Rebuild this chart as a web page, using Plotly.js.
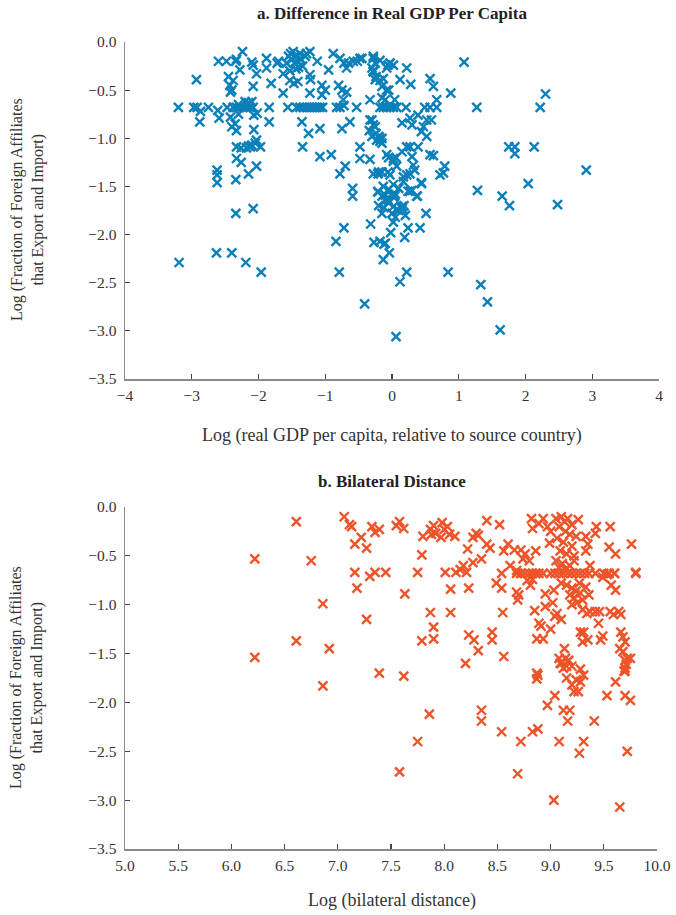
<!DOCTYPE html>
<html>
<head>
<meta charset="utf-8">
<script src="https://cdn.plot.ly/plotly-3.0.1.min.js"></script>
<style>html,body{margin:0;padding:0;background:#fff;}#chart{width:676px;height:915px;}</style>
</head>
<body>
<div id="chart"></div>
<script>
// Panel a: log real GDP per capita relative to source country vs log fraction
const gdpX = [-3.20,-3.19,-2.93,-2.97,-2.92,-2.87,-2.88,-2.75,-2.63,-2.62,-2.62,-2.62,-2.61,-2.59,-2.60,
-2.48,-2.47,-2.45,-2.43,-2.40,-2.42,-2.38,-2.40,-2.42,-2.40,-2.35,-2.33,-2.30,
-2.34,-2.33,-2.38,-2.33,-2.28,-2.23,-2.18,-2.13,-2.08,-2.30,-2.20,-2.15,-2.10,
-2.24,-2.28,-2.10,-2.08,-2.03,-2.08,
-2.33,-2.26,-2.18,-2.12,-2.10,-2.05,-2.03,-1.97,-2.15,
-2.33,-2.26,-2.03,-2.15,-2.34,-2.34,-2.08,-2.19,-1.96,-2.07,-2.07,-2.02,
-1.88,-1.88,-1.81,-1.84,-1.84,-1.72,-1.70,
-1.58,-1.55,-1.52,-1.50,-1.48,-1.46,-1.45,-1.42,-1.40,-1.38,-1.36,-1.34,-1.30,-1.28,-1.44,-1.53,
-1.63,-1.53,-1.47,-1.41,-1.63,-1.23,-1.22,-1.23,-1.12,-1.23,
-1.56,-1.43,-1.38,-1.33,-1.28,-1.24,-1.20,-1.16,-1.12,-1.08,-1.04,-0.83,-0.78,-0.53,
-0.95,-0.88,-1.05,-1.00,-1.05,-0.80,
-0.78,-0.72,-0.68,-0.65,-0.58,-0.52,-0.48,
-0.75,-0.68,-0.73,-0.72,
-0.33,-0.28,-0.25,-0.28,-0.24,-0.18,-0.06,-0.03,-0.15,-0.08,-0.10,
-0.18,-0.13,-0.08,-0.03,0.02,0.07,
-1.35,-1.25,-1.08,-0.75,-0.63,
-1.34,-1.08,-0.91,-0.78,-0.70,-0.48,-0.48,-0.59,-0.59,
-0.33,-0.28,-0.34,-0.24,-0.20,-0.18,-0.15,
-0.33,-0.20,-0.15,-0.06,
-0.21,-0.15,-0.10,-0.05,0.04,
-0.05,0.02,0.06,
-0.84,-0.72,-0.79,-0.32,-0.41,
-0.20,-0.12,0.00,-0.15,0.07,0.05,-0.02,
-0.27,-0.18,-0.10,-0.04,-0.13,0.12,0.06,0.22,
-0.13,-0.05,0.02,0.10,0.17,0.05,0.02,0.10,0.15,0.20,0.18,0.24,0.30,0.38,0.44,0.02,0.24,0.19,0.42,0.51,-0.12,
0.84,1.28,1.65,1.76,2.04,2.48,1.33,1.43,1.62,
-0.45,-0.28,-0.18,-0.30,-0.28,-0.25,-0.13,-0.03,0.02,-0.08,0.22,0.12,0.28,0.57,0.62,0.88,1.08,
-0.15,-0.05,0.04,0.21,0.49,0.57,0.67,0.67,1.27,2.22,2.30,
-0.30,-0.25,0.15,0.27,0.30,0.39,0.47,0.52,0.59,0.44,0.52,
-0.30,-0.23,-0.18,-0.15,
-0.08,0.02,0.15,0.22,0.27,0.30,0.39,0.57,0.62,
0.07,0.32,0.34,0.79,0.72,0.77,
-0.28,-0.21,-0.03,0.22,0.27,0.17,0.44,
-0.21,-0.10,-0.06,0.02,0.27,0.37,0.15,
1.75,1.84,1.84,2.13,2.91];
const gdpY = [-0.68,-2.29,-0.39,-0.68,-0.68,-0.72,-0.83,-0.68,-2.19,-1.33,-1.38,-1.46,-0.71,-0.79,-0.20,
-0.20,-0.68,-0.36,-0.45,-0.50,-0.52,-0.40,-2.19,-0.78,-0.88,-0.85,-0.92,-0.75,
-0.20,-0.18,-0.68,-0.68,-0.68,-0.68,-0.68,-0.68,-0.68,-0.65,-0.62,-0.63,-0.62,
-0.10,-0.29,-0.21,-0.24,-0.33,-0.46,
-1.09,-1.10,-1.10,-1.09,-1.07,-1.05,-1.02,-1.09,-1.08,
-1.21,-1.25,-1.29,-1.37,-1.43,-1.78,-1.73,-2.29,-2.39,-0.76,-0.91,-0.74,
-0.17,-0.27,-0.43,-0.68,-0.83,-0.22,-0.20,
-0.22,-0.15,-0.12,-0.18,-0.10,-0.22,-0.14,-0.20,-0.26,-0.12,-0.18,-0.25,-0.15,-0.12,-0.28,-0.30,
-0.33,-0.40,-0.43,-0.41,-0.53,-0.34,-0.39,-0.53,-0.20,-0.10,
-0.68,-0.68,-0.68,-0.68,-0.68,-0.68,-0.68,-0.68,-0.68,-0.68,-0.68,-0.68,-0.68,-0.68,
-0.29,-0.12,-0.45,-0.50,-0.55,-0.45,
-0.17,-0.22,-0.27,-0.22,-0.20,-0.20,-0.17,
-0.50,-0.52,-0.60,-0.66,
-0.60,-0.17,-0.22,-0.30,-0.36,-0.40,-0.24,-0.22,-0.46,-0.50,-0.60,
-0.68,-0.68,-0.68,-0.68,-0.68,-0.68,
-0.83,-0.95,-0.90,-0.90,-0.83,
-1.09,-1.19,-1.17,-1.37,-1.29,-1.09,-1.21,-1.52,-1.60,
-0.81,-0.86,-0.92,-0.95,-0.98,-1.03,-1.00,
-1.22,-1.35,-1.35,-1.35,
-1.56,-1.60,-1.64,-1.67,-1.60,
-1.20,-1.24,-1.20,
-2.07,-1.93,-2.39,-1.89,-2.72,
-1.70,-1.72,-1.78,-1.78,-1.74,-1.82,-1.98,
-2.08,-2.07,-2.09,-2.19,-2.26,-2.49,-3.06,-2.39,
-1.50,-1.53,-1.48,-1.52,-1.45,-1.58,-1.71,-1.75,-1.73,-1.80,-1.70,-1.55,-1.54,-1.60,-1.47,-1.87,-1.93,-2.03,-1.93,-1.78,-2.10,
-2.39,-1.54,-1.60,-1.70,-1.47,-1.69,-2.52,-2.70,-2.99,
-0.17,-0.15,-0.19,-0.27,-0.31,-0.39,-0.38,-0.22,-0.24,-0.27,-0.27,-0.39,-0.44,-0.38,-0.46,-0.53,-0.21,
-0.58,-0.50,-0.60,-0.68,-0.68,-0.68,-0.68,-0.60,-0.68,-0.68,-0.54,
-0.81,-0.88,-0.84,-0.79,-0.86,-0.76,-0.88,-0.81,-0.81,-0.93,-0.98,
-0.98,-1.02,-1.00,-1.05,
-1.17,-1.21,-1.14,-1.09,-1.09,-1.19,-1.09,-1.17,-1.18,
-1.29,-1.28,-1.33,-1.29,-1.38,-1.36,
-1.37,-1.37,-1.38,-1.38,-1.37,-1.40,-1.46,
-1.55,-1.59,-1.64,-1.61,-1.55,-1.60,-1.71,
-1.09,-1.09,-1.16,-1.09,-1.33];

// Panel b: log bilateral distance vs log fraction
const distX = [6.22,6.22,6.61,6.61,6.75,6.86,6.92,6.86,
7.06,7.11,7.13,7.16,7.22,7.27,7.32,7.35,7.39,
7.16,7.18,7.30,7.35,7.45,7.27,7.55,7.58,7.62,
7.39,7.62,7.58,7.75,7.86,7.63,7.75,7.79,7.80,
7.87,7.90,7.92,7.98,8.00,8.03,8.05,8.10,7.97,7.88,
7.87,7.90,7.90,7.79,8.01,8.06,8.06,
8.11,8.15,8.18,8.21,8.27,8.23,8.22,8.27,8.32,8.30,
8.35,8.40,8.40,8.43,8.52,8.56,
8.23,8.28,8.32,8.45,8.45,8.56,8.20,
8.49,8.54,8.55,
8.54,8.62,8.68,8.72,8.74,8.76,8.80,8.86,
8.68,8.72,8.76,8.80,8.83,8.86,8.89,8.93,9.00,9.04,9.08,9.12,9.16,9.20,9.24,9.28,9.32,9.36,9.42,9.50,9.55,9.60,9.80,
8.68,8.69,8.70,8.78,8.81,8.83,
8.60,8.66,8.72,
8.82,8.83,8.89,8.93,8.97,9.00,8.99,
9.05,9.10,9.13,9.16,9.20,9.08,9.14,9.18,9.06,9.12,9.20,9.09,9.15,9.22,9.05,9.11,9.18,9.08,9.14,9.22,9.24,
9.10,9.15,9.20,9.24,9.18,9.22,9.28,9.30,9.25,9.20,9.33,9.36,9.27,9.30,
8.95,8.95,8.85,8.89,8.87,8.93,8.91,9.00,9.02,9.04,9.06,9.10,9.03,
9.34,9.37,9.42,9.46,9.56,9.59,9.64,9.66,
9.43,9.42,9.56,9.55,9.61,9.76,9.80,
9.49,9.53,9.57,9.61,9.60,
9.37,9.33,9.35,9.33,9.26,
9.45,9.49,9.47,
9.28,9.31,9.35,9.30,
9.66,9.68,9.70,9.65,9.68,9.72,9.70,9.69,
9.13,9.08,9.09,9.14,9.17,9.15,9.20,9.28,
8.87,8.87,8.88,
9.10,9.16,9.12,9.15,9.20,9.24,9.22,9.26,9.28,9.31,
8.97,9.04,9.03,9.08,9.12,9.18,9.16,9.27,9.31,9.41,9.53,9.61,9.65,
9.70,9.71,9.70,9.70,9.75,9.75,9.72,
8.35,8.35,8.54,8.72,8.69,8.83,8.88];
const distY = [-0.53,-1.54,-0.15,-1.37,-0.55,-0.99,-1.45,-1.83,
-0.10,-0.18,-0.20,-0.38,-0.31,-0.42,-0.20,-0.26,-0.23,
-0.67,-0.83,-0.71,-0.67,-0.67,-1.15,-0.19,-0.15,-0.22,
-1.70,-1.73,-2.71,-2.40,-2.12,-0.89,-0.67,-0.49,-0.30,
-0.23,-0.19,-0.27,-0.16,-0.23,-0.20,-0.28,-0.30,-0.31,-0.28,
-1.08,-1.23,-1.35,-1.37,-0.67,-0.84,-1.08,
-0.67,-0.64,-0.60,-0.67,-0.57,-0.83,-0.43,-0.31,-0.29,-0.27,
-0.53,-0.14,-0.38,-0.42,-0.18,-0.45,
-1.31,-1.36,-1.47,-1.28,-1.36,-1.53,-1.60,
-0.78,-0.83,-1.08,
-0.68,-0.60,-0.65,-0.68,-0.53,-0.48,-0.55,-0.45,
-0.68,-0.68,-0.68,-0.68,-0.68,-0.68,-0.68,-0.68,-0.68,-0.68,-0.68,-0.68,-0.68,-0.68,-0.68,-0.68,-0.68,-0.68,-0.68,-0.68,-0.68,-0.68,-0.68,
-0.87,-0.95,-0.90,-0.75,-0.80,-0.74,
-0.38,-0.44,-0.44,
-0.12,-0.22,-0.17,-0.12,-0.20,-0.25,-0.37,
-0.12,-0.10,-0.15,-0.12,-0.18,-0.20,-0.25,-0.28,-0.32,-0.36,-0.40,-0.45,-0.48,-0.50,-0.55,-0.58,-0.60,-0.62,-0.64,-0.55,-0.30,
-0.78,-0.80,-0.83,-0.86,-0.90,-0.93,-0.88,-0.95,-0.98,-1.00,-0.82,-0.90,-0.78,-1.05,
-0.89,-1.02,-1.06,-1.19,-1.35,-1.35,-1.22,-1.25,-0.98,-1.12,-1.09,-1.15,-0.85,
-1.09,-1.07,-1.07,-1.07,-1.07,-1.10,-1.07,-1.10,
-0.20,-0.27,-0.20,-0.41,-0.48,-0.38,-0.67,
-0.72,-0.69,-0.80,-0.85,-0.68,
-0.60,-0.30,-0.38,-0.45,-0.13,
-1.19,-1.32,-1.36,
-1.28,-1.28,-1.36,-1.38,
-1.28,-1.33,-1.38,-1.45,-1.48,-1.55,-1.65,-1.68,
-1.45,-1.55,-1.60,-1.55,-1.57,-1.63,-1.63,-1.66,
-1.70,-1.76,-1.72,
-1.60,-1.58,-1.65,-1.75,-1.82,-1.77,-1.89,-1.89,-1.79,-1.72,
-2.03,-1.93,-3.00,-2.40,-2.08,-2.08,-2.19,-2.52,-2.40,-2.19,-1.93,-1.79,-3.07,
-1.57,-1.61,-1.68,-1.93,-1.98,-1.55,-2.50,
-2.08,-2.19,-2.30,-2.40,-2.73,-2.30,-2.27];

const topXTicks = [-4,-3,-2,-1,0,1,2,3,4];
const botXTicks = [5.0,5.5,6.0,6.5,7.0,7.5,8.0,8.5,9.0,9.5,10.0];
const yTicks = [0.0,-0.5,-1.0,-1.5,-2.0,-2.5,-3.0,-3.5];

const SERIF = '"Liberation Serif", "DejaVu Serif", serif';
const axisCommon = {
  showline: true, linecolor: '#8a8a8a', linewidth: 1.5,
  ticks: 'inside', ticklen: 5, tickwidth: 1.2, tickcolor: '#444',
  showgrid: false, zeroline: false,
  tickfont: {family: SERIF, size: 15.5, color: '#333'}
};

const markerStyle = (c) => ({symbol: 'x-thin-open', size: 9, line: {width: 2.4, color: c}, color: c});

const traces = [
  {x: gdpX, y: gdpY, type: 'scatter', mode: 'markers', xaxis: 'x', yaxis: 'y',
   marker: markerStyle('#0a80ba'), cliponaxis: false, hoverinfo: 'skip'},
  {x: distX, y: distY, type: 'scatter', mode: 'markers', xaxis: 'x2', yaxis: 'y2',
   marker: markerStyle('#ee5429'), cliponaxis: false, hoverinfo: 'skip'}
];

const layout = {
  width: 676, height: 915,
  margin: {l: 125, r: 17, t: 42, b: 66},
  paper_bgcolor: '#fff', plot_bgcolor: '#fff',
  showlegend: false,
  font: {family: SERIF, color: '#333'},
  xaxis: Object.assign({}, axisCommon, {domain: [0, 1], range: [-4, 4], tickvals: topXTicks, anchor: 'y', tickformat: 'd', ticklabelstandoff: 2}),
  yaxis: Object.assign({}, axisCommon, {domain: [0.5824, 1], range: [-3.5, 0], tickvals: yTicks, tickformat: '.1f', anchor: 'x', ticklabelstandoff: 4}),
  xaxis2: Object.assign({}, axisCommon, {domain: [0, 0.9963], range: [5, 10], tickvals: botXTicks, tickformat: '.1f', anchor: 'y2', ticklabelstandoff: 2}),
  yaxis2: Object.assign({}, axisCommon, {domain: [0, 0.4238], range: [-3.5, 0], tickvals: yTicks, tickformat: '.1f', anchor: 'x2', ticklabelstandoff: 4}),
  annotations: [
    {text: '<b>a. Difference in Real GDP Per Capita</b>', xref: 'paper', yref: 'paper', x: 0.5, y: 1.0347,
     xanchor: 'center', yanchor: 'middle', showarrow: false, font: {family: SERIF, size: 17, color: '#222'}},
    {text: '<b>b. Bilateral Distance</b>', xref: 'paper', yref: 'paper', x: 0.5, y: 0.4548,
     xanchor: 'center', yanchor: 'middle', showarrow: false, font: {family: SERIF, size: 17, color: '#222'}},
    {text: 'Log (real GDP per capita, relative to source country)', xref: 'paper', yref: 'paper', x: 0.5, y: 0.5118,
     xanchor: 'center', yanchor: 'middle', showarrow: false, font: {family: SERIF, size: 18, color: '#333'}},
    {text: 'Log (bilateral distance)', xref: 'paper', yref: 'paper', x: 0.5, y: -0.0632,
     xanchor: 'center', yanchor: 'middle', showarrow: false, font: {family: SERIF, size: 18, color: '#333'}},
    {text: 'Log (Fraction of Foreign Affiliates<br>that Export and Import)', xref: 'paper', yref: 'paper', x: -0.1835, y: 0.7918,
     xanchor: 'center', yanchor: 'middle', textangle: -90, showarrow: false, font: {family: SERIF, size: 16, color: '#333'}},
    {text: 'Log (Fraction of Foreign Affiliates<br>that Export and Import)', xref: 'paper', yref: 'paper', x: -0.1835, y: 0.2119,
     xanchor: 'center', yanchor: 'middle', textangle: -90, showarrow: false, font: {family: SERIF, size: 16, color: '#333'}}
  ]
};

Plotly.newPlot('chart', traces, layout, {staticPlot: true, displayModeBar: false});
</script>
</body>
</html>
